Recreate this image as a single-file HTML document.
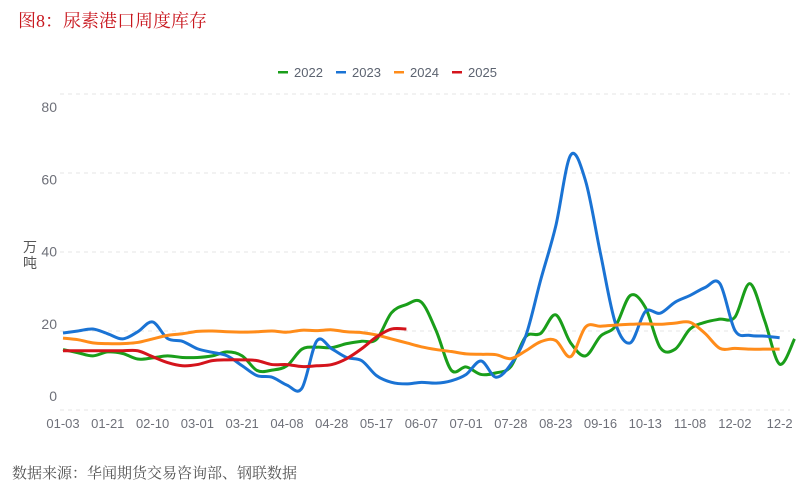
<!DOCTYPE html>
<html><head><meta charset="utf-8"><style>
body{margin:0;background:#fff;width:802px;height:490px;overflow:hidden;font-family:"Liberation Sans","Noto Sans CJK SC",sans-serif}
</style></head><body>
<svg id="chart" width="802" height="490" xmlns="http://www.w3.org/2000/svg">
<text x="18" y="27" font-family="'Liberation Serif','Noto Serif CJK SC',serif" font-size="18" fill="#c8161d">图8：尿素港口周度库存</text>
<text x="12" y="478" font-family="'Liberation Serif','Noto Serif CJK SC',serif" font-size="15" fill="#555">数据来源：华闻期货交易咨询部、钢联数据</text>
<g id="grid"></g><g id="ylabels"></g><g id="xlabels"></g><g id="series"></g><g id="legend"></g>
<text x="30" y="252" font-size="14" fill="#555" text-anchor="middle">万</text>
<text x="30" y="268" font-size="14" fill="#555" text-anchor="middle">吨</text>
</svg>
<script>
const xLabels=["01-03","01-21","02-10","03-01","03-21","04-08","04-28","05-17","06-07","07-01","07-28","08-23","09-16","10-13","11-08","12-02","12-2"];
const yTicks=[0,20,40,60,80];
const s2022=[15.3,14.5,13.7,14.7,14.3,12.9,13.2,13.7,13.3,13.3,13.7,14.7,13.7,10,10.1,11.2,15.4,15.9,15.8,16.8,17.4,17.9,24.6,26.7,27.3,20,10.1,10.9,9,9.4,11,18.6,19.4,24.1,17,13.7,18.7,21.2,29,26,15.8,15.4,20.5,22.2,23,23.5,32,22.6,11.6,18];
const s2023=[19.5,20,20.5,19.3,18,19.8,22.3,18.1,17.4,15.5,14.6,13.7,11.2,8.7,8.3,6.3,5.5,17.5,15.5,13.3,12.5,8.7,7,6.6,7,6.8,7.4,9,12.4,8.3,11.6,18.8,33,46.5,64.5,58,39.6,22,17,24.9,24.5,27.3,29,31,32,20.2,18.9,18.7,18.3];
const s2024=[18.2,17.8,17,16.8,16.8,17.1,18,18.9,19.3,19.9,20,19.8,19.7,19.8,20,19.7,20.2,20.1,20.3,19.8,19.6,19,18,17,16,15.3,14.8,14.2,14.1,14,13,15,17.3,17.6,13.5,21,21.2,21.5,21.7,21.8,21.7,22,22.2,19.4,15.6,15.6,15.4,15.4,15.4];
const s2025=[15,15,15,15,15,15,13.5,12,11.2,11.5,12.5,12.7,12.7,12.5,11.5,11.5,11,11.2,11.5,13,15.5,18.5,20.5,20.5];
const seriesNames=["2022","2023","2024","2025"];
const seriesColors=["#1a9e1a","#1a73d4","#ff8c1a","#d4141c"];
const NS="http://www.w3.org/2000/svg";
const x0=63,dx=14.93,y0=410,py=3.95;
const X=i=>x0+i*dx, Y=v=>y0-v*py;
const YL=v=>396-v*3.61;
function mk(t,a,p){const e=document.createElementNS(NS,t);for(const k in a)e.setAttribute(k,a[k]);document.getElementById(p).appendChild(e);return e;}
yTicks.forEach(v=>{
 const l=mk("line",{x1:60,x2:790,y1:Y(v),y2:Y(v),stroke:"#e6e6e6","stroke-dasharray":"4 4"},"grid");
 
 
 const t=mk("text",{x:57,y:YL(v)+5,"text-anchor":"end","font-size":"14",fill:"#6e7079"},"ylabels");t.textContent=v;
 
 
});
xLabels.forEach((s,k)=>{
 const t=mk("text",{x:X(k*3),y:428,"text-anchor":"middle","font-size":"13",fill:"#6e7079"},"xlabels");t.textContent=s;
 
 
});
function path(d){const p=d.map((v,i)=>[X(i),Y(v)]);let s="M"+p[0][0]+","+p[0][1];
 for(let i=0;i<p.length-1;i++){const a=p[i-1]||p[i],b=p[i],c=p[i+1],e=p[i+2]||c;
  s+=` C${b[0]+(c[0]-a[0])/6},${b[1]+(c[1]-a[1])/6} ${c[0]-(e[0]-b[0])/6},${c[1]-(e[1]-b[1])/6} ${c[0]},${c[1]}`;}return s;}
[s2022,s2023,s2024,s2025].forEach((d,k)=>{
 const p=mk("path",{d:path(d),fill:"none",stroke:seriesColors[k],"stroke-width":"3","stroke-linejoin":"round"},"series");
 
 
});
const lx=[278,336,394,452];
seriesNames.forEach((n,k)=>{
 const g=mk("g",{},"legend");
 
 
 const r=document.createElementNS(NS,"rect");r.setAttribute("x",lx[k]);r.setAttribute("y",71);r.setAttribute("width",10);r.setAttribute("height",2.5);r.setAttribute("fill",seriesColors[k]);g.appendChild(r);
 const t=document.createElementNS(NS,"text");t.setAttribute("x",lx[k]+16);t.setAttribute("y",77);t.setAttribute("font-size","13");t.setAttribute("fill","#5c6370");t.textContent=n;g.appendChild(t);
});
</script>
</body></html>
